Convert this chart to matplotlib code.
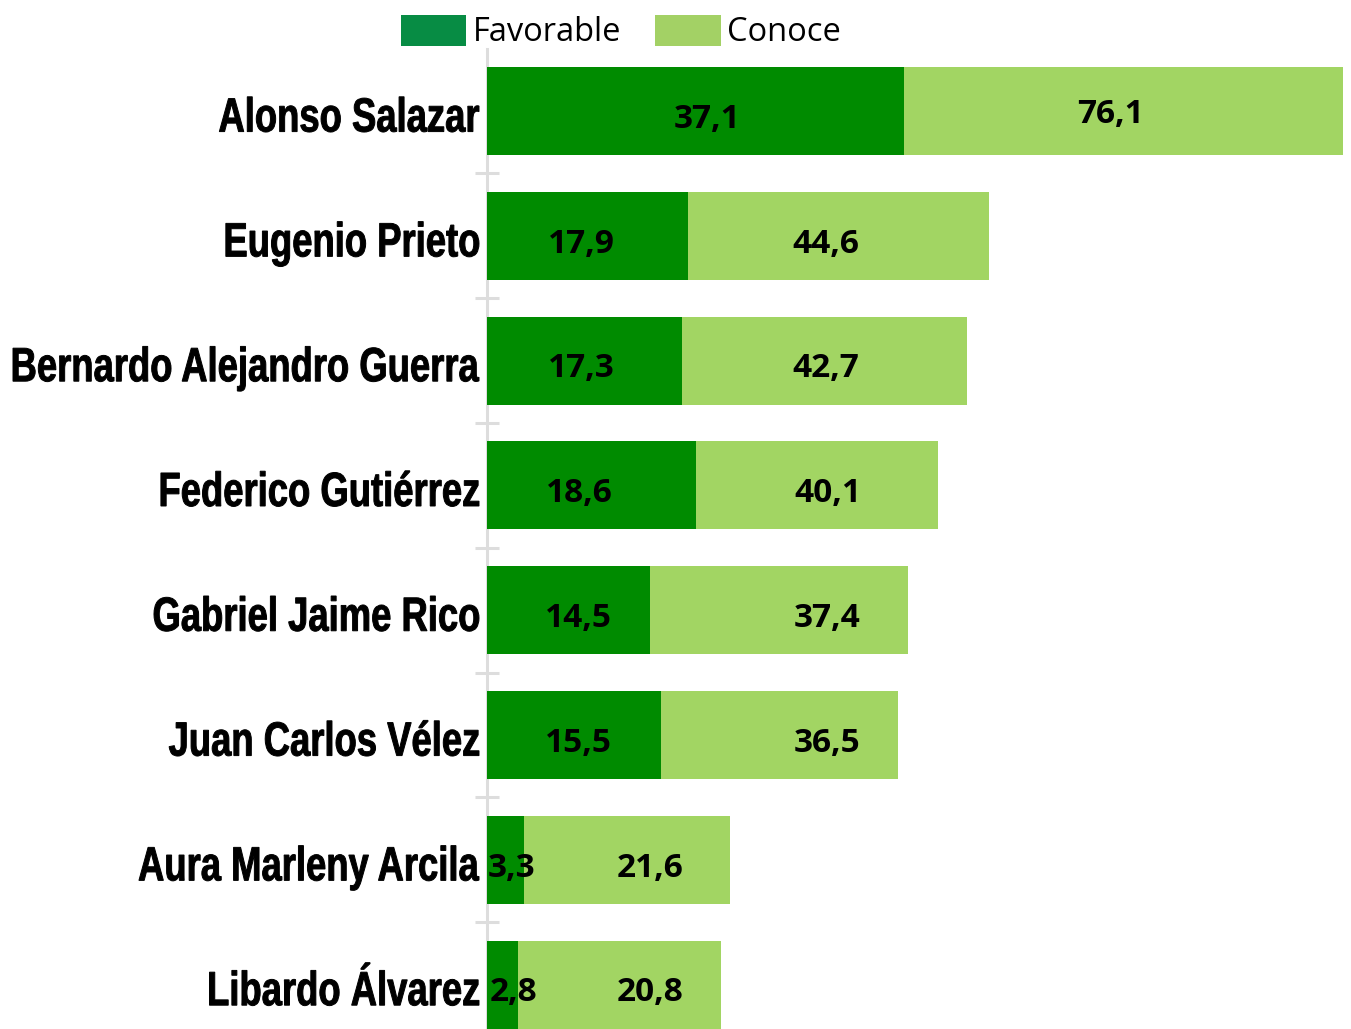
import matplotlib.pyplot as plt
from matplotlib.patches import Patch, PathPatch
from matplotlib.ticker import FixedLocator
from matplotlib.textpath import TextPath
from matplotlib.font_manager import FontProperties
from matplotlib.transforms import Affine2D, IdentityTransform

# data
candidates = [
    "Alonso Salazar",
    "Eugenio Prieto",
    "Bernardo Alejandro Guerra",
    "Federico Gutiérrez",
    "Gabriel Jaime Rico",
    "Juan Carlos Vélez",
    "Aura Marleny Arcila",
    "Libardo Álvarez",
]
favorable = [37.1, 17.9, 17.3, 18.6, 14.5, 15.5, 3.3, 2.8]
conoce = [76.1, 44.6, 42.7, 40.1, 37.4, 36.5, 21.6, 20.8]

# label placement (layout only, in axis units)
fav_label_x = [19.6, 8.4, 8.4, 8.2, 8.1, 8.1, 2.2, 2.4]
con_label_x = [55.4, 30.1, 30.1, 30.3, 30.2, 30.2, 14.5, 14.5]

DARK = "#008b00"
LIGHT = "#a2d563"
NUM_FONT = ["Open Sans", "DejaVu Sans"]

W, H = 1351, 1029
fig = plt.figure(figsize=(W / 100, H / 100), dpi=100)

# axes placed in pixel terms: x axis starts at 487px, rows 124.8px apart
row_px = 124.8
top_px = 111 - row_px / 2
bottom_px = top_px + row_px * len(candidates)
ax = fig.add_axes([487 / W, (H - bottom_px) / H, (W - 487) / W, row_px * len(candidates) / H])

y = list(range(len(candidates)))
ax.barh(y, conoce, height=0.705, color=LIGHT, zorder=2)
ax.barh(y, favorable, height=0.705, color=DARK, zorder=3)

ax.set_xlim(0, 76.1 * (W - 487) / 856)
ax.set_ylim(len(candidates) - 0.5, -0.5)

for s in ["top", "right", "bottom"]:
    ax.spines[s].set_visible(False)
ax.spines["left"].set_color("#dddddd")
ax.spines["left"].set_linewidth(2.2)
ax.spines["left"].set_zorder(1)
ax.set_xticks([])
ax.set_yticks([])
ax.yaxis.set_minor_locator(FixedLocator([i + 0.5 for i in y[:-1]]))
ax.tick_params(axis="y", which="minor", direction="inout", length=17,
               width=2.2, color="#dddddd")

# names: no condensed font installed, so squeeze a bold text path sideways
name_prop = FontProperties(family="Liberation Sans", weight="bold")
ref_path = TextPath((0, 0), "Bernardo Alejandro Guerra", size=40, prop=name_prop)
ref_ext = ref_path.get_extents()
sx = 466 / (ref_ext.x1 - ref_ext.x0)
sy = 1.2

for i, name in enumerate(candidates):
    tp = TextPath((0, 0), name, size=40, prop=name_prop)
    ext = tp.get_extents()
    bx, by = ax.transData.transform((0, i + 0.165))
    tr = Affine2D().translate(-ext.x1, 0).scale(sx, sy).translate(bx - 8, by)
    fig.patches.append(PathPatch(tr.transform_path(tp), transform=IdentityTransform(),
                                 facecolor="black", edgecolor="black", lw=0.7,
                                 figure=fig))

    ax.text(fav_label_x[i], i + 0.135, f"{favorable[i]:.1f}".replace(".", ","),
            ha="center", va="baseline", fontsize=24, fontweight="bold",
            family=NUM_FONT, color="black", zorder=5)
    ax.text(con_label_x[i], i + 0.135 - (0.04 if i == 0 else 0),
            f"{conoce[i]:.1f}".replace(".", ","),
            ha="center", va="baseline", fontsize=24, fontweight="bold",
            family=NUM_FONT, color="black", zorder=5)

handles = [Patch(facecolor="#078c44", label="Favorable"),
           Patch(facecolor="#a3d165", label="Conoce")]
fig.legend(handles=handles, loc="upper center", bbox_to_anchor=(621 / W, 1.008),
           ncol=2, frameon=False, handlelength=2.0, handleheight=1.1,
           handletextpad=0.2, columnspacing=1.05, borderpad=0.2,
           prop={"family": NUM_FONT, "size": 23.5})

fig.savefig("out.png", dpi=100)
